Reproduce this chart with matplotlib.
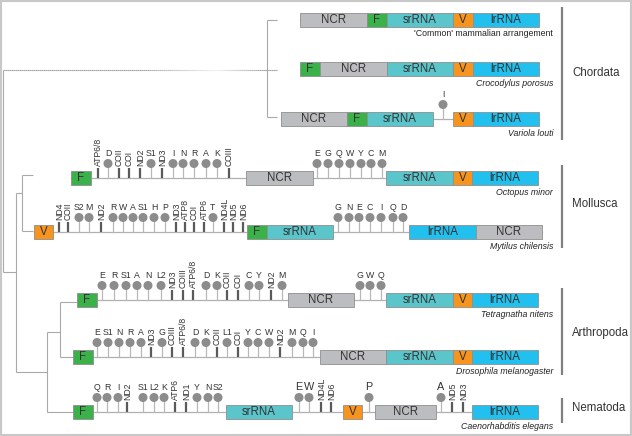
import matplotlib
matplotlib.use("Agg")
import matplotlib.pyplot as plt
from matplotlib.patches import Rectangle, Circle
from matplotlib.collections import LineCollection

plt.rcParams['font.family'] = ['Liberation Sans', 'DejaVu Sans']

# colours of the gene blocks
BLOCK_COLORS = {
    'NCR': '#bcbdc0',
    'F': '#3bb14a',
    'srRNA': '#5bc5cc',
    'V': '#f7941d',
    'lrRNA': '#22c0ee',
}

# ---- data: blocks (name, start, end) and markers (label, position, kind) ----
# kind: 't' = tRNA (lollipop), 'T' = tRNA with larger label, 'g' = protein coding gene (bar)
mammal_y = 20
mammal_blocks = [('NCR', 300, 367), ('F', 367, 387), ('srRNA', 387, 453), ('V', 453, 473), ('lrRNA', 473, 539)]
mammal_marks = []

croc_y = 69
croc_blocks = [('F', 300, 320), ('NCR', 320, 387), ('srRNA', 387, 453), ('V', 453, 473), ('lrRNA', 473, 539)]
croc_marks = []

variola_y = 119
variola_blocks = [('NCR', 281, 347), ('F', 347, 367), ('srRNA', 367, 433), ('V', 453, 473), ('lrRNA', 473, 539)]
variola_marks = [('I', 443, 't')]

octopus_y = 178
octopus_blocks = [('F', 71, 91), ('NCR', 246, 313), ('srRNA', 386, 453), ('V', 453, 472), ('lrRNA', 472, 538)]
octopus_marks = [('ATP6/8', 98, 'g'), ('D', 108, 't'), ('COII', 119, 'g'), ('COI', 129, 'g'), ('ND2', 140, 'g'),
                 ('S1', 151, 't'), ('ND3', 162, 'g'), ('I', 173, 't'), ('N', 183, 't'), ('R', 194, 't'),
                 ('A', 206, 't'), ('K', 217, 't'), ('COIII', 229, 'g'), ('E', 317, 't'), ('G', 328, 't'),
                 ('Q', 339, 't'), ('W', 350, 't'), ('Y', 361, 't'), ('C', 371, 't'), ('M', 382, 't')]

mytilus_y = 232
mytilus_blocks = [('V', 34, 53), ('F', 247, 267), ('srRNA', 267, 333), ('lrRNA', 409, 476), ('NCR', 476, 542)]
mytilus_marks = [('ND4', 59, 'g'), ('COII', 68, 'g'), ('S2', 79, 't'), ('M', 89, 't'), ('ND2', 101, 'g'),
                 ('R', 113, 't'), ('W', 123, 't'), ('A', 133, 't'), ('S1', 143, 't'), ('H', 154, 't'),
                 ('P', 165, 't'), ('ND3', 176, 'g'), ('ATP8', 185, 'g'), ('COI', 194, 'g'), ('ATP6', 204, 'g'),
                 ('T', 213, 't'), ('ND4L', 224, 'g'), ('ND5', 233, 'g'), ('ND6', 243, 'g'),
                 ('G', 338, 't'), ('N', 349, 't'), ('E', 359, 't'), ('C', 370, 't'), ('I', 381, 't'),
                 ('Q', 393, 't'), ('D', 403, 't')]

tetra_y = 300
tetra_blocks = [('F', 77, 97), ('NCR', 288, 354), ('srRNA', 386, 453), ('V', 453, 472), ('lrRNA', 472, 538)]
tetra_marks = [('E', 102, 't'), ('R', 114, 't'), ('S1', 126, 't'), ('A', 137, 't'), ('N', 148, 't'),
               ('L2', 161, 't'), ('ND3', 172, 'g'), ('COIII', 183, 'g'), ('ATP6/8', 193, 'g'), ('D', 206, 't'),
               ('K', 217, 't'), ('COII', 227, 'g'), ('COI', 238, 'g'), ('C', 249, 't'), ('Y', 259, 't'),
               ('ND2', 271, 'g'), ('M', 282, 't'), ('G', 360, 't'), ('W', 370, 't'), ('Q', 381, 't')]

droso_y = 357
droso_blocks = [('F', 73, 93), ('NCR', 320, 386), ('srRNA', 386, 453), ('V', 453, 472), ('lrRNA', 472, 538)]
droso_marks = [('E', 97, 't'), ('S1', 108, 't'), ('N', 119, 't'), ('R', 130, 't'), ('A', 141, 't'),
               ('ND3', 151, 'g'), ('G', 162, 't'), ('COIII', 172, 'g'), ('ATP6/8', 183, 'g'), ('D', 195, 't'),
               ('K', 206, 't'), ('COII', 217, 'g'), ('L1', 227, 't'), ('COI', 238, 'g'), ('Y', 248, 't'),
               ('C', 258, 't'), ('W', 269, 't'), ('ND2', 280, 'g'), ('M', 292, 't'), ('Q', 303, 't'),
               ('I', 313, 't')]

nema_y = 412
nema_blocks = [('F', 73, 93), ('srRNA', 226, 292), ('V', 343, 362), ('NCR', 375, 436), ('lrRNA', 472, 538)]
nema_marks = [('Q', 97, 't'), ('R', 107, 't'), ('I', 118, 't'), ('ND2', 127, 'g'), ('S1', 143, 't'),
              ('L2', 154, 't'), ('K', 164, 't'), ('ATP6', 175, 'g'), ('ND1', 186, 'g'), ('Y', 197, 't'),
              ('N', 208, 't'), ('S2', 218, 't'), ('E', 299, 'T'), ('W', 309, 'T'), ('ND4L', 321, 'g'),
              ('ND6', 331, 'g'), ('P', 369, 'T'), ('A', 441, 'T'), ('ND5', 452, 'g'), ('ND3', 463, 'g')]

captions = ["'Common' mammalian arrangement", 'Crocodylus porosus', 'Variola louti', 'Octopus minor',
            'Mytilus chilensis', 'Tetragnatha nitens', 'Drosophila melanogaster', 'Caenorhabditis elegans']

groups = ['Chordata', 'Mollusca', 'Arthropoda', 'Nematoda']
group_spans = [(7, 140), (165, 248), (288, 375), (398, 423)]
group_label_y = [73, 204, 333, 408]

# ---------------------------------------------------------------------------
fig = plt.figure(figsize=(6.32, 4.36), dpi=100)
ax = fig.add_axes([0, 0, 1, 1])
ax.set_xlim(0, 632)
ax.set_ylim(436, 0)
ax.axis('off')

# outer frame
ax.add_patch(Rectangle((1, 1), 630, 434, fill=False, edgecolor='#c8c8c8', lw=1.5))

TREE = '#a9a9a9'
tree_lw = 0.8


def tree_line(xs, ys):
    ax.plot(xs, ys, color=TREE, lw=tree_lw, solid_capstyle='butt')


# phylogeny
tree_line([267, 267], [20, 117])
tree_line([267, 277], [20, 20])
tree_line([267, 277], [117, 117])
tree_line([3, 3], [70, 272])
tree_line([3, 16], [272, 272])
tree_line([16, 16], [193, 372])
tree_line([16, 22], [193, 193])
tree_line([22, 22], [175, 231])
tree_line([22, 33], [175, 175])
tree_line([22, 33], [231, 231])
tree_line([16, 47], [372, 372])
tree_line([47, 47], [332, 412])
tree_line([47, 73], [412, 412])
tree_line([47, 60], [332, 332])
tree_line([60, 60], [302, 357])
tree_line([60, 77], [302, 302])
tree_line([60, 73], [357, 357])

# long root branch to the chordates, fading out in the middle
xs = list(range(3, 278, 2))
segs = [[(a, 70), (a + 2, 70)] for a in xs[:-1]]
shades = []
for a in xs[:-1]:
    if a < 140:
        g = 0.66
    elif a < 215:
        g = 0.66 + (a - 140) / 75 * 0.28
    elif a < 262:
        g = 0.94 - (a - 215) / 47 * 0.28
    else:
        g = 0.66
    shades.append((g, g, g))
ax.add_collection(LineCollection(segs, colors=shades, linewidths=tree_lw))


def draw_row(y, blocks, marks, caption, italic=True):
    x0 = min(b[1] for b in blocks)
    x1 = max(b[2] for b in blocks)
    ax.plot([x0, x1], [y, y], color='#b0b0b0', lw=0.9, zorder=1)
    for label, pos, kind in marks:
        if kind in ('t', 'T'):
            ax.plot([pos, pos], [y, y - 14.5], color='#b8b8b8', lw=0.9, zorder=1)
            ax.add_patch(Circle((pos, y - 14.5), 3.8, color='#8c8c8c', zorder=2))
            fs = 6.3 if kind == 't' else 7.8
            off = 24.5 if kind == 't' else 25.5
            ax.text(pos, y - off, label, ha='center', va='center', fontsize=fs, color='#333333')
        else:
            ax.plot([pos, pos], [y, y - 10], color='#5a5a5a', lw=1.6, zorder=2, solid_capstyle='butt')
            ax.text(pos + 0.5, y - 12.5, label, ha='center', va='bottom', rotation=90,
                    fontsize=6.2, color='#333333')
    for name, b0, b1 in blocks:
        ax.add_patch(Rectangle((b0, y - 7), b1 - b0, 14, facecolor=BLOCK_COLORS[name],
                               edgecolor='#8f8f8f', lw=0.6, zorder=3))
        ax.text((b0 + b1) / 2, y + 0.3, name, ha='center', va='center', fontsize=8.3,
                color='#333333', zorder=4)
    ax.text(553, y + 14, caption, ha='right', va='center', fontsize=6.3,
            style='italic' if italic else 'normal', color='#222222')


draw_row(mammal_y, mammal_blocks, mammal_marks, captions[0], italic=False)
draw_row(croc_y, croc_blocks, croc_marks, captions[1])
draw_row(variola_y, variola_blocks, variola_marks, captions[2])
draw_row(octopus_y, octopus_blocks, octopus_marks, captions[3])
draw_row(mytilus_y, mytilus_blocks, mytilus_marks, captions[4])
draw_row(tetra_y, tetra_blocks, tetra_marks, captions[5])
draw_row(droso_y, droso_blocks, droso_marks, captions[6])
draw_row(nema_y, nema_blocks, nema_marks, captions[7])

# taxon group bars
for name, (g0, g1), gy in zip(groups, group_spans, group_label_y):
    ax.plot([562, 562], [g0, g1], color='#808080', lw=1.6, solid_capstyle='butt')
    ax.text(572, gy, name, ha='left', va='center', fontsize=8.3, color='#333333')

fig.savefig('out.png', dpi=100)
